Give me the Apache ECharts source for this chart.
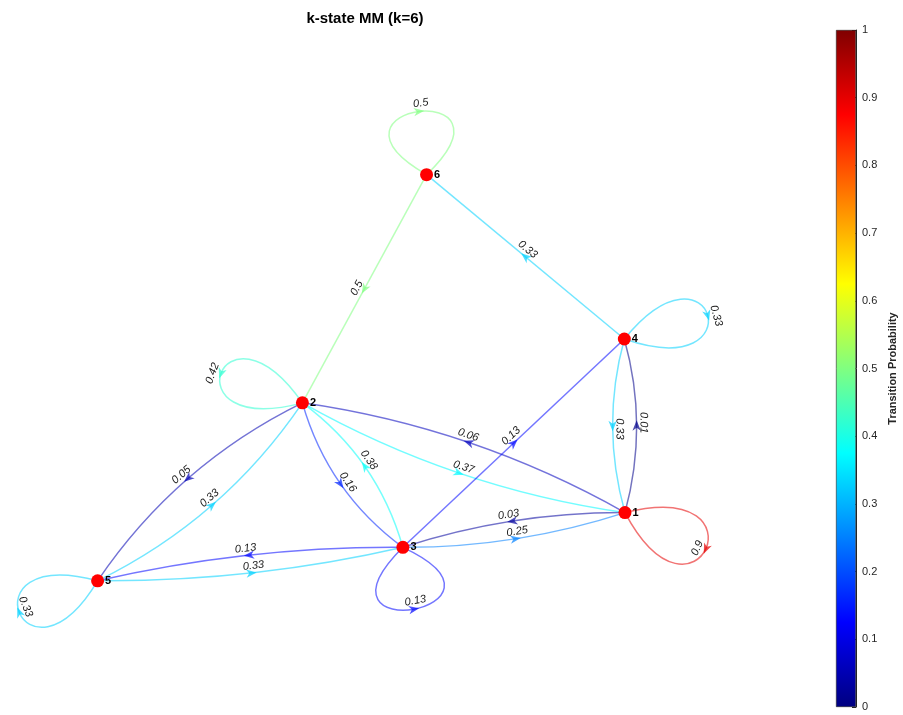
<!DOCTYPE html>
<html>
<head>
<meta charset="utf-8">
<script src="https://cdn.jsdelivr.net/npm/echarts@6/dist/echarts.min.js"></script>
<style>
  html, body { margin: 0; padding: 0; background: #ffffff; }
  #chart { width: 903px; height: 715px; }
</style>
</head>
<body>
<div id="chart"></div>
<script>
// States of the chain and their layout coordinates
const stateNames = ['1', '2', '3', '4', '5', '6'];
const nodeX = [9.14, 4.10, 5.67, 9.13, 0.90, 6.04];
const nodeY = [2.70, 4.47, 2.14, 5.50, 1.60, 8.15];

// Transitions: from state -> to state, with probability
const edgeFrom = [1, 1, 1, 1, 2, 2, 2, 2, 3, 3, 3, 3, 3, 4, 4, 4, 5, 5, 5, 6, 6];
const edgeTo   = [1, 2, 3, 4, 1, 2, 3, 5, 1, 2, 3, 4, 5, 1, 4, 6, 2, 3, 5, 2, 6];
const edgeProb = [0.9, 0.06, 0.03, 0.01, 0.37, 0.42, 0.16, 0.05, 0.25, 0.38, 0.13,
                  0.13, 0.13, 0.33, 0.33, 0.33, 0.33, 0.33, 0.33, 0.5, 0.5];

// Colour bar scale
const colorbarMin = 0;
const colorbarMax = 1;
const colorbarStep = 0.1;

// Jet colour map, evenly spaced stops
const jetColors = ['#000080', '#0000ff', '#0080ff', '#00ffff', '#80ff80',
                   '#ffff00', '#ff8000', '#ff0000', '#800000'];

// Sideways bend (px) of reciprocal edge pairs
const pairBend = { '1-4': 12, '2-5': 18, '2-3': 15, '1-2': 16, '1-3': 9, '3-5': 9 };

// Self-loop drawing: axis direction, half opening angle (deg), size, turning sense
const loopShape = {
  1: { angle: 24,   open: 38, size: 150, dir: 1 },
  2: { angle: -160, open: 35, size: 141, dir: -1 },
  3: { angle: 80,   open: 55, size: 146, dir: -1 },
  4: { angle: -16,  open: 35, size: 141, dir: 1 },
  5: { angle: 158,  open: 37, size: 141, dir: 1 },
  6: { angle: -97,  open: 53, size: 141, dir: 1 }
};

const FONT = '"Liberation Sans", Arial, Helvetica, sans-serif';
const edgeData = edgeFrom.map((f, i) => [f, edgeTo[i], edgeProb[i]]);
const nodeData = stateNames.map((n, i) => [nodeX[i], nodeY[i], n]);

function unit(deg) {
  const r = deg * Math.PI / 180;
  return [Math.cos(r), Math.sin(r)];
}

function renderEdge(params, api) {
  const f = api.value(0), t = api.value(1), p = api.value(2);
  const color = api.visual('color');
  const s = api.coord([nodeX[f - 1], nodeY[f - 1]]);
  const e = api.coord([nodeX[t - 1], nodeY[t - 1]]);
  let curve, mid, dir, gap = 7;

  if (f === t) {
    const ls = loopShape[f];
    const a = unit(ls.angle - ls.dir * ls.open);
    const b = unit(ls.angle + ls.dir * ls.open);
    const p1 = [s[0] + ls.size * a[0], s[1] + ls.size * a[1]];
    const p2 = [s[0] + ls.size * b[0], s[1] + ls.size * b[1]];
    curve = { x1: s[0], y1: s[1], x2: s[0], y2: s[1], cpx1: p1[0], cpy1: p1[1], cpx2: p2[0], cpy2: p2[1] };
    mid = [s[0] + 0.375 * (p1[0] - s[0] + p2[0] - s[0]), s[1] + 0.375 * (p1[1] - s[1] + p2[1] - s[1])];
    const dx = p2[0] - p1[0], dy = p2[1] - p1[1], L = Math.hypot(dx, dy);
    dir = [dx / L, dy / L];
    gap = 8;
  } else {
    const dx = e[0] - s[0], dy = e[1] - s[1], L = Math.hypot(dx, dy);
    dir = [dx / L, dy / L];
    const nrm = [-dir[1], dir[0]];
    const key = Math.min(f, t) + '-' + Math.max(f, t);
    const bend = pairBend[key] || 0;
    const m = [(s[0] + e[0]) / 2, (s[1] + e[1]) / 2];
    curve = { x1: s[0], y1: s[1], x2: e[0], y2: e[1], cpx1: m[0] + nrm[0] * 2 * bend, cpy1: m[1] + nrm[1] * 2 * bend };
    mid = [m[0] + nrm[0] * bend, m[1] + nrm[1] * bend];
  }

  // arrow head at the middle of the edge
  const nn = [-dir[1], dir[0]];
  const pts = [
    [mid[0] + dir[0] * 5.5, mid[1] + dir[1] * 5.5],
    [mid[0] - dir[0] * 5 + nn[0] * 4.2, mid[1] - dir[1] * 5 + nn[1] * 4.2],
    [mid[0] - dir[0] * 2, mid[1] - dir[1] * 2],
    [mid[0] - dir[0] * 5 - nn[0] * 4.2, mid[1] - dir[1] * 5 - nn[1] * 4.2]
  ];

  // label along the edge, kept upright
  let ang = Math.atan2(dir[1], dir[0]) * 180 / Math.PI;
  if (ang > 90) ang -= 180;
  if (ang <= -90) ang += 180;
  const ar = ang * Math.PI / 180;
  const up = [Math.sin(ar), -Math.cos(ar)];
  const lx = mid[0] + dir[0] * 3 + up[0] * gap;
  const ly = mid[1] + dir[1] * 3 + up[1] * gap;

  return {
    type: 'group',
    children: [
      { type: 'bezierCurve', shape: curve, style: { stroke: color, fill: null, lineWidth: 1.5, opacity: 0.55 } },
      { type: 'polygon', shape: { points: pts }, style: { fill: color, opacity: 0.7 } },
      { type: 'text', x: lx, y: ly, rotation: -ar,
        style: { text: String(p), x: 0, y: 0, align: 'center', verticalAlign: 'middle',
                 fill: '#1a1a1a', font: 'italic 11px ' + FONT } }
    ]
  };
}

const chart = echarts.init(document.getElementById('chart'), null, { renderer: 'canvas' });
chart.setOption({
  animation: false,
  backgroundColor: '#ffffff',
  textStyle: { fontFamily: FONT },
  title: {
    text: 'k-state MM (k=6)',
    left: 360, top: 6, textAlign: 'center',
    textStyle: { fontSize: 15, fontWeight: 'bold', color: '#000000', fontFamily: FONT }
  },
  grid: [
    { left: 40, top: 60, width: 640, height: 620 },
    { left: 836, top: 30, width: 20, height: 677 }
  ],
  xAxis: [
    { gridIndex: 0, type: 'value', min: 0, max: 10, show: false },
    { gridIndex: 1, type: 'category', data: ['p'], show: false }
  ],
  yAxis: [
    { gridIndex: 0, type: 'value', min: 0, max: 10, show: false },
    {
      gridIndex: 1, type: 'value', position: 'right',
      min: colorbarMin, max: colorbarMax, interval: colorbarStep,
      axisLine: { show: true, lineStyle: { color: '#262626', width: 1 } },
      axisTick: { show: true, inside: true, length: 4, lineStyle: { color: '#262626' } },
      splitLine: { show: false },
      axisLabel: { fontSize: 11, color: '#262626', margin: 6, fontFamily: FONT },
      name: 'Transition Probability', nameLocation: 'middle', nameRotate: 90, nameGap: 31,
      nameTextStyle: { fontSize: 11, fontWeight: 'bold', color: '#262626', fontFamily: FONT }
    }
  ],
  visualMap: {
    show: false, type: 'continuous', seriesIndex: 0, dimension: 2,
    min: colorbarMin, max: colorbarMax, inRange: { color: jetColors }
  },
  series: [
    {
      type: 'custom', coordinateSystem: 'cartesian2d', xAxisIndex: 0, yAxisIndex: 0,
      data: edgeData, renderItem: renderEdge, clip: false, silent: true, z: 1
    },
    {
      type: 'scatter', xAxisIndex: 0, yAxisIndex: 0, data: nodeData, z: 3,
      symbol: 'circle', symbolSize: 13, itemStyle: { color: '#ff0000', opacity: 1 },
      label: { show: true, position: 'right', distance: 1, formatter: (d) => d.data[2],
               fontSize: 11, fontWeight: 'bold', color: '#000000', fontFamily: FONT },
      silent: true
    },
    {
      type: 'bar', xAxisIndex: 1, yAxisIndex: 1, data: [colorbarMax], barWidth: '100%', silent: true,
      itemStyle: {
        color: { type: 'linear', x: 0, y: 1, x2: 0, y2: 0,
                 colorStops: jetColors.map((c, i) => ({ offset: i / (jetColors.length - 1), color: c })) },
        borderColor: '#262626', borderWidth: 0.6
      }
    }
  ]
});
</script>
</body>
</html>
